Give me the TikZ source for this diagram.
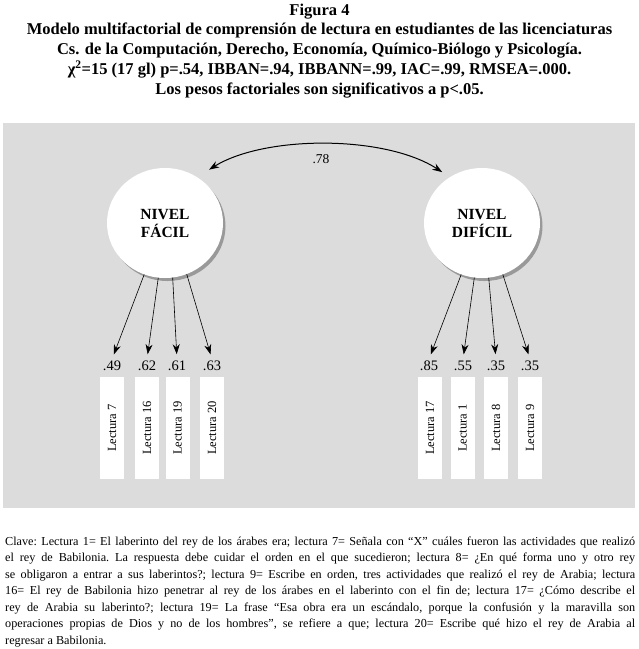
\documentclass[tikz,border=0pt]{standalone}
\usepackage{fontspec}
\setmainfont{Liberation Serif}
\usetikzlibrary{arrows.meta,shapes.geometric,shadows}
\definecolor{bggrey}{RGB}{220,220,220}
\begin{document}
\begin{tikzpicture}[x=1pt,y=-1pt,
  latent/.style={ellipse,fill=white,minimum width=116pt,minimum height=110pt,inner sep=0pt,align=center,
    font=\fontsize{15.5}{18}\selectfont\bfseries,
    drop shadow={shadow xshift=2.5pt,shadow yshift=-3pt,opacity=0.3,fill=black}},
  obsbox/.style={rectangle,fill=white,minimum width=102pt,minimum height=24pt,inner sep=0pt,rotate=90,
    font=\fontsize{12.5}{13}\selectfont},
  loadlab/.style={font=\fontsize{14.5}{15}\selectfont,inner sep=1pt,anchor=base},
  loadarrow/.style={-{Stealth[length=10pt,width=7pt]},line width=0.6pt,shorten >=5pt},
  corrarrow/.style={{Stealth[length=10pt,width=7pt]}-{Stealth[length=10pt,width=7pt]},line width=1pt},
  titleline/.style={anchor=base,inner sep=0pt,font=\fontsize{16.5}{18}\selectfont\bfseries},
  noteline/.style={anchor=base west,inner sep=0pt,font=\fontsize{12.2}{13}\selectfont\frenchspacing}
]
\useasboundingbox (0,0) rectangle (639,649);
\fill[white] (0,0) rectangle (639,649);
\fill[bggrey] (3,123) rectangle (635,508);

% title
\node[titleline] (t1) at (319.5,15) {Figura 4};
\node[titleline] (t2) at (319.5,34.5) {Modelo multifactorial de comprensión de lectura en estudiantes de las licenciaturas};
\node[titleline] (t3) at (319.5,54.5) {Cs. de la Computación, Derecho, Economía, Químico-Biólogo y Psicología.};
\node[titleline] (t4) at (319.5,74.5) {χ\textsuperscript{2}=15 (17 gl) p=.54, IBBAN=.94, IBBANN=.99, IAC=.99, RMSEA=.000.};
\node[titleline] (t5) at (319.5,94.5) {Los pesos factoriales son significativos a p<.05.};

% latent variables
\node[latent] (fac) at (165,223) {NIVEL\\FÁCIL};
\node[latent] (dif) at (482,223) {NIVEL\\DIFÍCIL};

% correlation
\draw[corrarrow,shorten <=14pt,shorten >=9pt] (fac.55) .. controls (265,135) and (385,135) .. (dif.125);
\node[font=\fontsize{13.5}{14}\selectfont,inner sep=1pt] (r) at (321,159) {.78};

% loadings left
\node[loadlab] (l7) at (112,370) {.49};
\node[loadlab] (l16) at (147,370) {.62};
\node[loadlab] (l19) at (177,370) {.61};
\node[loadlab] (l20) at (212,370) {.63};
% loadings right
\node[loadlab] (l17) at (429,370) {.85};
\node[loadlab] (l1) at (463,370) {.55};
\node[loadlab] (l8) at (496,370) {.35};
\node[loadlab] (l9) at (530,370) {.35};

% observed boxes
\node[obsbox] (b7) at (112,428) {Lectura 7};
\node[obsbox] (b16) at (147,428) {Lectura 16};
\node[obsbox] (b19) at (177.5,428) {Lectura 19};
\node[obsbox] (b20) at (212,428) {Lectura 20};
\node[obsbox] (b17) at (430,428) {Lectura 17};
\node[obsbox] (b1) at (462.5,428) {Lectura 1};
\node[obsbox] (b8) at (496,428) {Lectura 8};
\node[obsbox] (b9) at (530,428) {Lectura 9};

% arrows
\draw[loadarrow] (fac.248) -- (l7.north);
\draw[loadarrow] (fac.263) -- (l16.north);
\draw[loadarrow] (fac.278) -- (l19.north);
\draw[loadarrow] (fac.293) -- (l20.north);
\draw[loadarrow] (dif.248) -- (l17.north);
\draw[loadarrow] (dif.262) -- (l1.north);
\draw[loadarrow] (dif.277) -- (l8.north);
\draw[loadarrow] (dif.292) -- (l9.north);

% note
\node[noteline] (n1) at (5,545) {\makebox[630pt][s]{Clave: Lectura 1= El laberinto del rey de los árabes era; lectura 7= Señala con “X” cuáles fueron las actividades que realizó}};
\node[noteline] (n2) at (5,561.5) {\makebox[630pt][s]{el rey de Babilonia. La respuesta debe cuidar el orden en el que sucedieron; lectura 8= ¿En qué forma uno y otro rey}};
\node[noteline] (n3) at (5,578) {\makebox[630pt][s]{se obligaron a entrar a sus laberintos?; lectura 9= Escribe en orden, tres actividades que realizó el rey de Arabia; lectura}};
\node[noteline] (n4) at (5,594.5) {\makebox[630pt][s]{16= El rey de Babilonia hizo penetrar al rey de los árabes en el laberinto con el fin de; lectura 17= ¿Cómo describe el}};
\node[noteline] (n5) at (5,611) {\makebox[630pt][s]{rey de Arabia su laberinto?; lectura 19= La frase “Esa obra era un escándalo, porque la confusión y la maravilla son}};
\node[noteline] (n6) at (5,627.5) {\makebox[630pt][s]{operaciones propias de Dios y no de los hombres”, se refiere a que; lectura 20= Escribe qué hizo el rey de Arabia al}};
\node[noteline] (n7) at (5,644) {regresar a Babilonia.};
\end{tikzpicture}
\end{document}
